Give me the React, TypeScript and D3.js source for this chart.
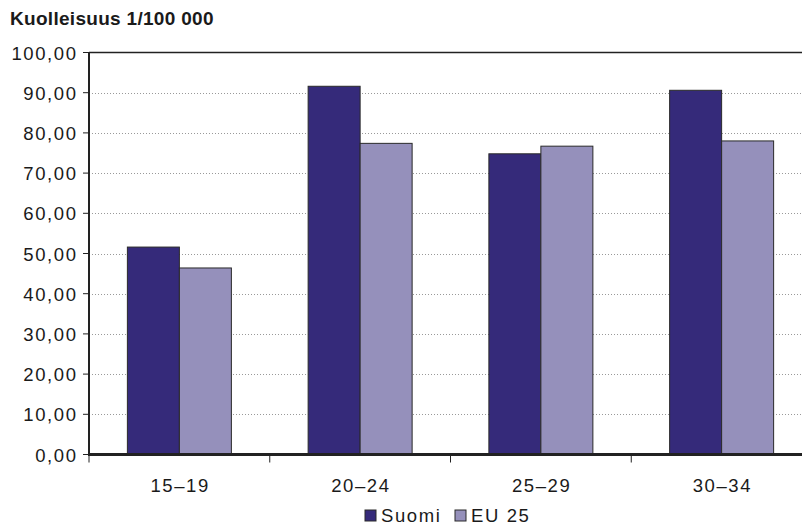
import React from "react";
import * as d3 from "d3";

const categories = ["15–19", "20–24", "25–29", "30–34"];
const seriesNames = ["Suomi", "EU 25"];
const suomi = [51.6, 91.6, 74.8, 90.6];
const eu25 = [46.4, 77.4, 76.7, 78.0];
const yTicks = [0, 10, 20, 30, 40, 50, 60, 70, 80, 90, 100];
const colors = ["#352a7a", "#9590bb"];

export default function App() {
  const W = 802, H = 526;
  const left = 89, right = 812, top = 52.5, bottom = 454.5;
  const x = d3.scaleBand<string>().domain(categories).range([left, right]);
  const y = d3.scaleLinear().domain([0, 100]).range([bottom, top]);
  const barW = 52;
  const series = [suomi, eu25];
  const font = "'Liberation Sans', Arial, Helvetica, sans-serif";
  const fmt = (v: number) => v.toFixed(2).replace(".", ",");
  const ls = 1.6;
  const fs = 18.5;

  return (
    <svg width={W} height={H} style={{ position: "absolute", left: 0, top: 0, background: "#fff" }}>
      <rect width={W} height={H} fill="#fff" />
      <text x={10} y={25} fontFamily={font} fontSize={19} fontWeight="bold" letterSpacing={0.3} fill="#1a1a1a">
        Kuolleisuus 1/100 000
      </text>
      {yTicks.filter((t) => t > 0 && t < 100).map((t) => (
        <line key={"g" + t} x1={left} x2={W} y1={Math.round(y(t)) + 0.5} y2={Math.round(y(t)) + 0.5}
          stroke="#999" strokeWidth={1} strokeDasharray="1,2" />
      ))}
      <line x1={left} x2={W} y1={top} y2={top} stroke="#222" strokeWidth={1.5} />
      {categories.map((c, i) => {
        const cx = (x(c) as number) + x.bandwidth() / 2;
        return series.map((s, j) => (
          <rect key={c + j} x={cx - barW + j * barW} y={y(s[i])} width={barW} height={bottom - y(s[i])}
            fill={colors[j]} stroke="#2a2a2a" strokeWidth={1} />
        ));
      })}
      <line x1={left} x2={left} y1={top} y2={bottom} stroke="#222" strokeWidth={2} />
      <line x1={left - 1} x2={W} y1={bottom} y2={bottom} stroke="#222" strokeWidth={3} />
      {yTicks.map((t) => (
        <g key={"t" + t}>
          <line x1={left - 6} x2={left} y1={y(t)} y2={y(t)} stroke="#222" strokeWidth={1} />
          <text x={76 + ls} y={y(t) + 7} textAnchor="end" fontFamily={font} fontSize={fs}
            letterSpacing={ls} fill="#1a1a1a">
            {fmt(t)}
          </text>
        </g>
      ))}
      {[...categories.map((c) => x(c) as number), right].map((bx, i) => (
        <line key={"xt" + i} x1={bx} x2={bx} y1={bottom} y2={bottom + 8} stroke="#222" strokeWidth={1} />
      ))}
      {categories.map((c) => (
        <text key={"xl" + c} x={(x(c) as number) + x.bandwidth() / 2 + ls / 2} y={492} textAnchor="middle"
          fontFamily={font} fontSize={fs} letterSpacing={ls} fill="#1a1a1a">
          {c}
        </text>
      ))}
      {seriesNames.map((n, j) => {
        const lx = j === 0 ? 365 : 455;
        return (
          <g key={n}>
            <rect x={lx} y={510} width={11} height={11} fill={colors[j]} stroke="#2a2a2a" strokeWidth={1} />
            <text x={lx + 16} y={522} fontFamily={font} fontSize={fs} letterSpacing={ls} fill="#1a1a1a">{n}</text>
          </g>
        );
      })}
    </svg>
  );
}
